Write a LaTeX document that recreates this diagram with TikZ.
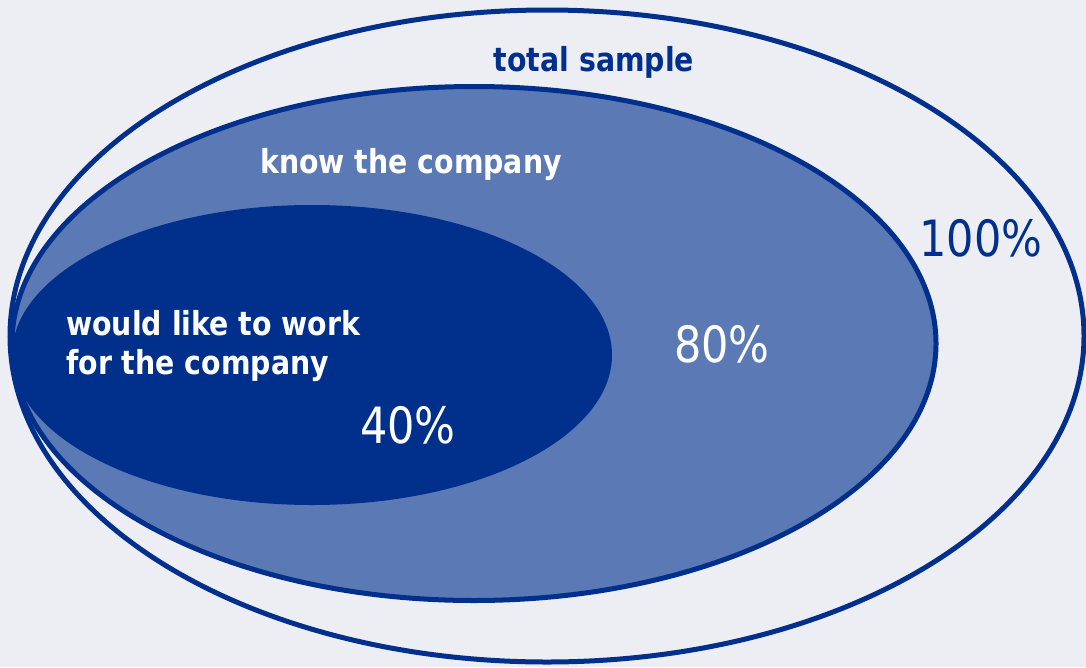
\documentclass[tikz,border=0pt]{standalone}
\usepackage{fontspec}
\newfontfamily\labfont{DejaVu Sans}[FakeStretch=0.86]
\definecolor{bg}{HTML}{EDEEF4}
\definecolor{dblue}{HTML}{00308C}
\definecolor{mblue}{HTML}{5B7AB5}
\tikzset{
  ring/.style={draw=dblue, line width=5pt},
  boldlab/.style={font=\labfont\bfseries\fontsize{33}{39}\selectfont, inner sep=0pt},
  pctlab/.style={font=\labfont\fontsize{50}{58}\selectfont, inner sep=0pt}
}
\begin{document}
\begin{tikzpicture}[x=1pt,y=-1pt]
\useasboundingbox (0,0) rectangle (1086,667);
\fill[bg] (0,0) rectangle (1086,667);
\path[ring, fill=bg] (547,336) ellipse [x radius=537pt, y radius=326pt];
\path[ring, fill=mblue] (474,343.5) ellipse [x radius=462pt, y radius=257pt];
\fill[dblue] (312,355) ellipse [x radius=300pt, y radius=150pt];
\node[boldlab, text=dblue] (total) at (594,62) {total sample};
\node[boldlab, text=white] (know) at (411,165) {know the company};
\node[boldlab, text=white, align=left, anchor=west] (work) at (66,346) {would like to work\\for the company};
\node[pctlab, text=white] (p40) at (408,425) {40\%};
\node[pctlab, text=white] (p80) at (722,344) {80\%};
\node[pctlab, text=dblue] (p100) at (981,238) {100\%};
\end{tikzpicture}
\end{document}
